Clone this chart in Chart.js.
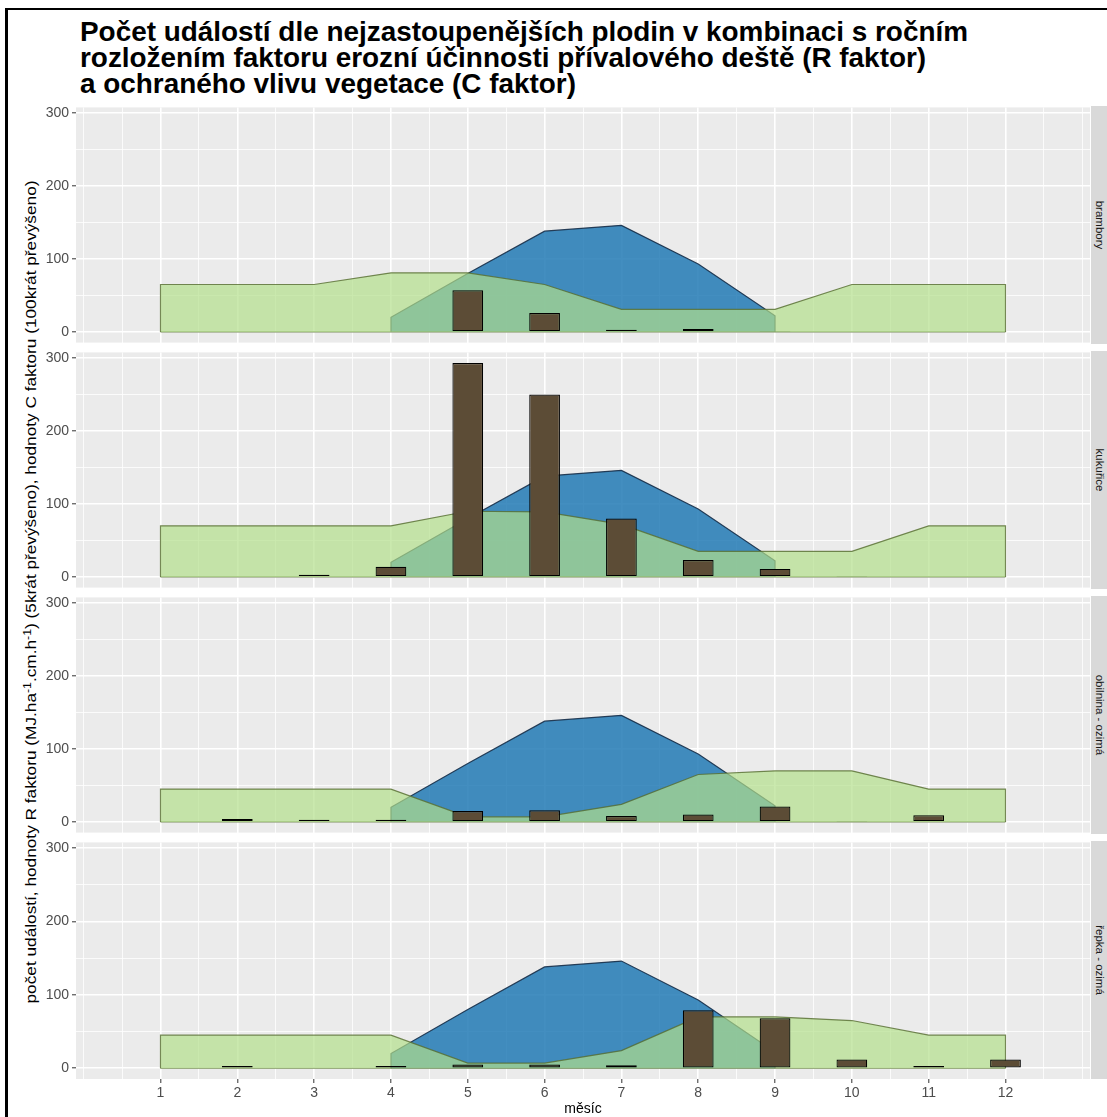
<!DOCTYPE html>
<html lang="cs">
<head>
<meta charset="utf-8">
<title>Počet událostí dle nejzastoupenějších plodin</title>
<script src="https://cdn.jsdelivr.net/npm/chart.js@4/dist/chart.umd.min.js"></script>
<style>
  html, body { margin: 0; padding: 0; background: #fff; }
  body { width: 1107px; height: 1117px; position: relative; overflow: hidden;
         font-family: "Liberation Sans", Arial, sans-serif; }
  .frame { position: absolute; left: 5px; top: 8px; right: -10px; bottom: -10px;
           border-left: 3px solid #000; border-top: 2px solid #000; }
  #title { position: absolute; left: 80px; top: 19px; font-weight: bold; font-size: 28px;
           line-height: 26px; color: #000; white-space: nowrap; transform-origin: 0 0; }
  .panel { position: absolute; left: 19px; }
  .strip { position: absolute; left: 1091px; width: 18px; background: #d9d9d9; }
  .strip span { position: absolute; left: 50%; top: 50%; white-space: nowrap;
                transform: translate(-50%, -50%) rotate(90deg);
                font-size: 11.5px; color: #1a1a1a; }
  #ytitle { position: absolute; left: 31px; top: 592px; white-space: nowrap; font-size: 14px; color: #000; }
  #ytitle sup { font-size: 10px; vertical-align: 5px; line-height: 0; }
</style>
</head>
<body>
<div class="frame"></div>
<div id="title"><span id="t1">Počet událostí dle nejzastoupenějších plodin v kombinaci s ročním</span><br>rozložením faktoru erozní účinnosti přívalového deště (R faktor)<br>a ochraného vlivu vegetace (C faktor)</div>
<div id="ytitle">počet událostí, hodnoty R faktoru (MJ.ha<sup>-1</sup>.cm.h<sup>-1</sup>) (5krát převýšeno), hodnoty C faktoru (100krát převýšeno)</div>

<script>
// months on the x axis and the labelled ticks
const months = [1, 2, 3, 4, 5, 6, 7, 8, 9, 10, 11, 12];
const monthTickLabels = ['1', '2', '3', '4', '5', '6', '7', '8', '9', '10', '11', '12'];
const valueTickLabels = [0, 100, 200, 300];

// crops shown in the facets (top to bottom)
const crops = ['brambory', 'kukuřice', 'obilnina - ozimá', 'řepka - ozimá'];

// R factor by month (x5), same for all crops
const rFactor = [null, null, null, 20, 80, 138, 146, 93, 22, null, null, null];

// C factor by month (x100)
const cBrambory = [65, 65, 65, 81, 81, 65, 31, 31, 31, 65, 65, 65];
const cKukurice = [70, 70, 70, 70, 90, 89, 72, 35, 35, 35, 70, 70];
const cObilnina = [45, 45, 45, 45, 7, 7, 24, 65, 70, 70, 45, 45];
const cRepka    = [45, 45, 45, 45, 7, 7, 24, 70, 70, 65, 45, 45];

// number of erosion events by month
const eventsBrambory = [null, null, null, null, 57, 26, 3, 4, 1, null, null, null];
const eventsKukurice = [null, null, 3, 14, 293, 250, 80, 23, 11, 1, null, null];
const eventsObilnina = [null, 4, 3, 3, 15, 16, 8, 10, 21, 1, 9, null];
const eventsRepka    = [null, 3, null, 3, 5, 5, 4, 79, 68, 12, 3, 12];

const cFactorByCrop = [cBrambory, cKukurice, cObilnina, cRepka];
const eventsByCrop = [eventsBrambory, eventsKukurice, eventsObilnina, eventsRepka];

// grid positions: half-month steps on x, 50-unit steps on y
const xGrid = [];
for (let v = 0; v <= 13; v += 0.5) xGrid.push(v);
const yGrid = [0, 50, 100, 150, 200, 250, 300];

// closed area outline (drops to zero at both ends)
function areaPoints(values) {
  let first = -1, last = -1;
  values.forEach((v, i) => { if (v !== null) { if (first < 0) first = i; last = i; } });
  const pts = [{ x: months[first], y: 0 }];
  for (let i = first; i <= last; i++) pts.push({ x: months[i], y: values[i] });
  pts.push({ x: months[last], y: 0 });
  return pts;
}
function barPoints(values) {
  return months.map((m, i) => ({ x: m, y: values[i] })).filter(p => p.y !== null);
}
const isMonthTick = v => Number.isInteger(v) && v >= 1 && v <= 12;
const isValueTick = v => valueTickLabels.includes(v);

const panelBackground = {
  id: 'panelBackground',
  beforeDraw(chart) {
    const { ctx, chartArea: a } = chart;
    ctx.save();
    ctx.fillStyle = '#ebebeb';
    ctx.fillRect(a.left, a.top, a.right - a.left, a.bottom - a.top);
    ctx.restore();
  }
};

const PANEL_TOP = 106, PANEL_H = 238, PANEL_STEP = 245, PAD = 10, XAXIS_H = 39;
const OLIVE = 'rgba(85,107,47,0.8)';
const FONT = '"Liberation Sans", Arial, sans-serif';

crops.forEach((crop, idx) => {
  const last = idx === crops.length - 1;
  const canvas = document.createElement('canvas');
  canvas.className = 'panel';
  const h = PAD + PANEL_H + (last ? XAXIS_H : PAD);
  canvas.width = 1071;
  canvas.height = h;
  canvas.style.top = (PANEL_TOP + idx * PANEL_STEP - PAD) + 'px';
  canvas.style.width = '1071px';
  canvas.style.height = h + 'px';
  document.body.appendChild(canvas);

  const strip = document.createElement('div');
  strip.className = 'strip';
  strip.style.top = (PANEL_TOP + idx * PANEL_STEP) + 'px';
  strip.style.height = PANEL_H + 'px';
  const label = document.createElement('span');
  label.textContent = crop;
  strip.appendChild(label);
  document.body.appendChild(strip);

  const cVals = cFactorByCrop[idx];
  new Chart(canvas, {
    data: {
      datasets: [
        { // events (bars); the half-month tick spacing sets the bar slot
          type: 'bar', label: 'počet událostí', data: barPoints(eventsByCrop[idx]),
          backgroundColor: 'rgb(92,76,54)', borderColor: '#000', borderWidth: 1.2,
          borderSkipped: false, categoryPercentage: 1, barPercentage: 0.8, order: 0
        },
        { // C factor area
          type: 'line', label: 'C faktor', data: areaPoints(cVals), fill: 'origin',
          backgroundColor: 'rgba(178,223,138,0.69)', borderColor: OLIVE, borderWidth: 1.2,
          pointRadius: 0, tension: 0, order: 1
        },
        { // C factor area base edge
          type: 'line', label: 'C faktor', data: [{ x: months[0], y: 0 }, { x: months[months.length - 1], y: 0 }],
          fill: false, borderColor: OLIVE, borderWidth: 1.2, pointRadius: 0, order: 1
        },
        { // R factor area
          type: 'line', label: 'R faktor', data: areaPoints(rFactor), fill: 'origin',
          backgroundColor: 'rgba(31,120,180,0.84)', borderColor: 'rgba(22,46,72,0.9)', borderWidth: 1.2,
          pointRadius: 0, tension: 0, order: 2
        }
      ]
    },
    options: {
      responsive: false, animation: false, devicePixelRatio: 1, events: [],
      layout: { padding: { top: PAD, bottom: last ? 0 : PAD, left: 0, right: 0 } },
      plugins: { legend: { display: false }, tooltip: { enabled: false } },
      scales: {
        x: {
          type: 'linear', min: -0.1, max: 13.1, offset: false,
          afterBuildTicks: s => { s.ticks = xGrid.map(v => ({ value: v })); },
          afterFit: s => { s.height = last ? XAXIS_H : 0; },
          ticks: {
            display: last, autoSkip: false, maxRotation: 0, color: '#4d4d4d',
            font: { family: FONT, size: 14 }, padding: 2,
            callback: v => isMonthTick(v) ? monthTickLabels[v - 1] : ''
          },
          grid: {
            offset: false, color: '#ffffff', drawTicks: last, tickLength: 4, tickWidth: 1,
            lineWidth: c => (c.tick && isMonthTick(c.tick.value)) ? 1.6 : 0.8,
            tickColor: c => (c.tick && isMonthTick(c.tick.value)) ? '#333333' : 'rgba(0,0,0,0)'
          },
          border: { display: false },
          title: {
            display: last, text: 'měsíc', color: '#000',
            font: { family: FONT, size: 14 }, padding: 0
          }
        },
        y: {
          type: 'linear', min: -14.65, max: 307.65,
          afterBuildTicks: s => { s.ticks = yGrid.map(v => ({ value: v })); },
          afterFit: s => { s.width = 57; },
          ticks: {
            autoSkip: false, color: '#4d4d4d', padding: 3,
            font: { family: FONT, size: 14 },
            callback: v => isValueTick(v) ? String(v) : ''
          },
          grid: {
            color: '#ffffff', tickLength: 4, tickWidth: 1,
            lineWidth: c => (c.tick && isValueTick(c.tick.value)) ? 1.6 : 0.8,
            tickColor: c => (c.tick && isValueTick(c.tick.value)) ? '#333333' : 'rgba(0,0,0,0)'
          },
          border: { display: false }
        }
      }
    },
    plugins: [panelBackground]
  });
});

// fit the heading and the vertical axis title to their lengths
(function () {
  const t = document.getElementById('title');
  const w = document.getElementById('t1').getBoundingClientRect().width;
  t.style.transform = 'scaleX(' + (888 / w) + ')';

  const y = document.getElementById('ytitle');
  const r = y.getBoundingClientRect();
  y.style.left = (31 - r.width / 2) + 'px';
  y.style.top = (592 - r.height / 2) + 'px';
  y.style.transform = 'rotate(-90deg) scaleX(' + (823 / r.width) + ')';
})();
</script>
</body>
</html>
